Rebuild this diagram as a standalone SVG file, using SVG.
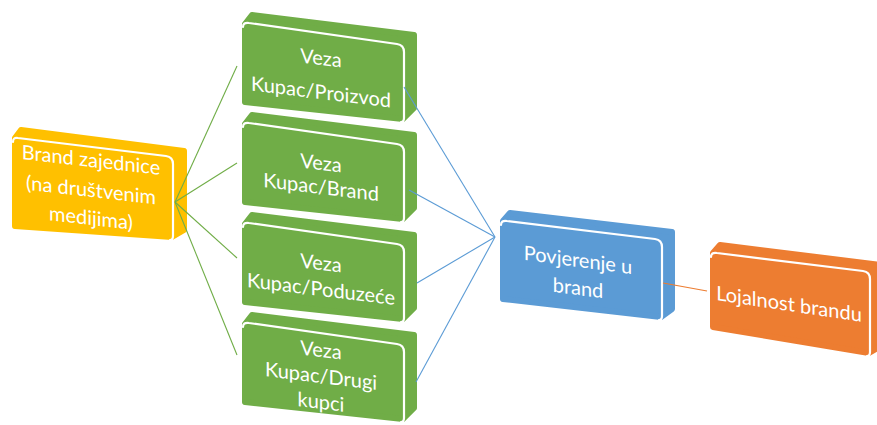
<svg xmlns="http://www.w3.org/2000/svg" xmlns:xlink="http://www.w3.org/1999/xlink" width="877" height="425" viewBox="0 0 877 425">
<style>
.body{stroke-width:6;stroke-linejoin:round}
.rim{fill:none;stroke:#FFFFFF;stroke-width:2.2;stroke-linecap:round}
.t{font-family:Lato,"Open Sans","Liberation Sans",sans-serif;font-size:20px;fill:#FFFFFF;text-anchor:middle}
.cg{stroke:#70AD47;stroke-width:1.1;fill:none}
.cb{stroke:#5B9BD5;stroke-width:1.1;fill:none}
.co{stroke:#ED7D31;stroke-width:1.1;fill:none}
</style>
<defs>
<g id="gblk">
<polygon class="body" fill="#70AD47" stroke="#70AD47" points="245,80 245,2 252,-7 414,13 414,86 403,97"/>
<path class="rim" d="M243,5 Q243,0 249,1 L397,22 Q404,23 404,30 L404,96 Q404,100 401,100"/>
</g>
</defs>
<rect width="877" height="425" fill="#FFFFFF"/>
<g id="brand-zajednice">
<polygon class="body" fill="#FFC000" stroke="#FFC000" points="15,226 15,138 21,130 184,151 184,230 172,237"/>
<path class="rim" d="M13,142 Q13,137 18,138 L166,156 Q173,157 173,164 L173,236 Q173,240 170,240"/>
<text class="t" transform="translate(91,167) skewY(6.5)">Brand zajednice</text>
<text class="t" transform="translate(91,197) skewY(6.5)">(na društvenim</text>
<text class="t" transform="translate(91,225) skewY(6.5)">medijima)</text>
</g>
<g id="veza-proizvod">
<use xlink:href="#gblk" href="#gblk" y="22"/>
<text class="t" transform="translate(321,65) skewY(7)">Veza</text>
<text class="t" transform="translate(321,99) skewY(7)">Kupac/Proizvod</text>
</g>
<g id="veza-brand">
<use xlink:href="#gblk" href="#gblk" y="122"/>
<text class="t" transform="translate(321,170) skewY(7)">Veza</text>
<text class="t" transform="translate(321,194) skewY(7)">Kupac/Brand</text>
</g>
<g id="veza-poduzece">
<use xlink:href="#gblk" href="#gblk" y="222"/>
<text class="t" transform="translate(321,270) skewY(7)">Veza</text>
<text class="t" transform="translate(321,296) skewY(7)">Kupac/Poduzeće</text>
</g>
<g id="veza-drugi">
<use xlink:href="#gblk" href="#gblk" y="322"/>
<text class="t" transform="translate(321,357) skewY(7)">Veza</text>
<text class="t" transform="translate(321,383) skewY(7)">Kupac/Drugi</text>
<text class="t" transform="translate(321,409) skewY(7)">kupci</text>
</g>
<g id="povjerenje">
<polygon class="body" fill="#5B9BD5" stroke="#5B9BD5" points="503,299 503,221 510,213 672,232 672,309 661,317"/>
<path class="rim" d="M501,225 Q501,220 507,221 L655,239 Q662,240 662,247 L662,316 Q662,320 659,320"/>
<text class="t" transform="translate(578,267) skewY(7.5)">Povjerenje u</text>
<text class="t" transform="translate(578,295) skewY(7.5)">brand</text>
</g>
<g id="lojalnost">
<polygon class="body" fill="#ED7D31" stroke="#ED7D31" points="713,327 713,253 720,245 881,265 881,346 869,353"/>
<path class="rim" d="M711,257 Q711,252 717,253 L863,271 Q870,272 870,279 L870,352 Q870,356 867,356"/>
<text class="t" transform="translate(789,311) skewY(8.5)">Lojalnost brandu</text>
</g>
<g id="connectors">
<line class="cg" x1="175" y1="202" x2="237" y2="66"/>
<line class="cg" x1="175" y1="202" x2="237" y2="163"/>
<line class="cg" x1="175" y1="202" x2="237" y2="258"/>
<line class="cg" x1="175" y1="202" x2="237" y2="355"/>
<line class="cb" x1="404" y1="87" x2="495" y2="237"/>
<line class="cb" x1="409" y1="190" x2="495" y2="237"/>
<line class="cb" x1="417" y1="283" x2="495" y2="237"/>
<line class="cb" x1="416" y1="382" x2="495" y2="237"/>
<line class="co" x1="663" y1="283" x2="707" y2="291"/>
</g>
</svg>
